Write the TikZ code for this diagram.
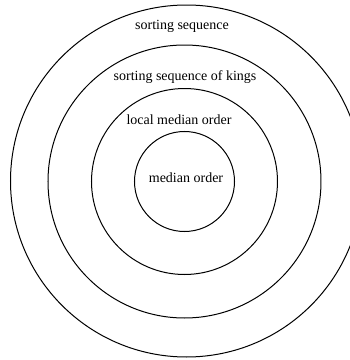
\documentclass[tikz,border=0pt]{standalone}
\usepackage{fontspec}
\setmainfont{Liberation Serif}
\begin{document}
\begin{tikzpicture}[x=1pt,y=1pt,
  ring/.style={draw, circle, line width=1pt, inner sep=0pt},
  lbl/.style={font=\fontsize{14}{16}\selectfont, inner sep=0pt}]
\useasboundingbox (0,0) rectangle (350,360);
\clip (0,0) rectangle (350,360);
\coordinate (c) at (184.5,178.5);
\coordinate (co) at (186.5,179);
\node[ring, minimum size=352] (r1) at (co) {};
\node[ring, minimum size=273] (r2) at (c) {};
\node[ring, minimum size=186] (r3) at (c) {};
\node[ring, minimum size=100] (r4) at (c) {};
\node[lbl] (t1) at (182,334) {sorting sequence};
\node[lbl] (t2) at (185,283) {sorting sequence of kings};
\node[lbl] (t3) at (179,240) {local median order};
\node[lbl] (t4) at (186,182) {median order};
\end{tikzpicture}
\end{document}
